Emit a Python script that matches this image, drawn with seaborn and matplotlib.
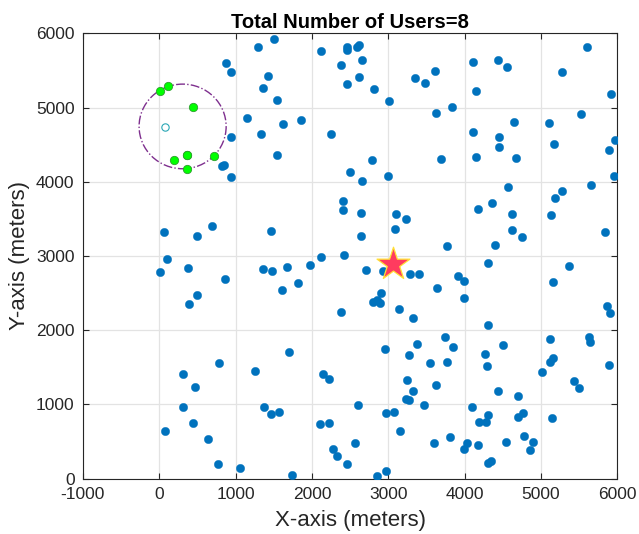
import matplotlib
matplotlib.use("Agg")
import matplotlib.pyplot as plt
import seaborn as sns
import pandas as pd
from matplotlib.patches import Circle

# ---------------- data ----------------
blue_x = [1296, 873, 939, 1148, 939, 817, 851, 939, 1502, 2121, 2454, 2454, 2593, 2611,
          2654, 2375, 1423, 1354, 1537, 2611, 2454, 2811, 3012, 3344, 3483, 3614, 1851,
          1624, 1336, 1541, 2252, 2781, 2493, 2654, 2995, 3627, 4108, 4435, 4553, 4147,
          5600, 5277, 5915, 3829, 4112, 4444, 4452, 4641, 4147, 4667, 3693, 5103, 5522,
          5168, 5967, 5888, 5958, 5649, 58, 498, 694, 97, 9, 372, 860, 498, 393, 1354,
          2409, 2405, 2641, 1459, 2641, 3099, 3230, 3090, 2117, 2415, 1969, 1676, 1480,
          1820, 1607, 2703, 2929, 3287, 3404, 3636, 2903, 2802, 2851, 2894, 3135, 3326,
          2375, 4570, 4352, 4177, 4614, 4614, 4745, 4400, 3771, 5269, 5177, 5125, 5840,
          4304, 5365, 3915, 3994, 3994, 5151, 5862, 5905, 4304, 782, 310, 467, 1253, 310,
          437, 75, 638, 773, 1057, 1367, 1694, 1467, 1563, 1742, 2143, 2222, 2602, 2108,
          2222, 2274, 2327, 2559, 2462, 2855, 2968, 2951, 3370, 3274, 3545, 3239, 3318,
          3619, 3230, 3266, 3462, 2965, 3073, 3156, 3597, 3737, 3842, 3763, 4265, 4496,
          4291, 4431, 4693, 4091, 4308, 4190, 4278, 4697, 4758, 3803, 4025, 3986, 4173,
          4544, 4775, 4897, 4854, 4300, 4343, 5112, 5630, 5640, 5151, 5116, 5015, 5892,
          5434, 5499, 5146]
blue_y = [5811, 5604, 5479, 4855, 4607, 4212, 4230, 4068, 5927, 5757, 5819, 5775, 5811, 5838,
          5640, 5569, 5429, 5267, 5106, 5415, 5317, 5254, 5088, 5402, 5327, 5496, 4828,
          4778, 4643, 4365, 4643, 4297, 4128, 4006, 4078, 4926, 5609, 5644, 5550, 5219,
          5811, 5475, 5186, 5007, 4666, 4607, 4468, 4805, 4338, 4324, 4303, 4788, 4909,
          4509, 4567, 4424, 4082, 3961, 3327, 3273, 3400, 2956, 2780, 2842, 2686, 2471,
          2349, 2829, 3737, 3620, 3575, 3333, 3273, 3562, 3502, 3368, 2982, 3013, 2879,
          2848, 2798, 2640, 2542, 2815, 2798, 2762, 2753, 2569, 2502, 2376, 2407, 2363,
          2290, 2169, 2242, 3934, 3718, 3633, 3562, 3354, 3260, 3144, 3131, 3880, 3781,
          3556, 3323, 2910, 2869, 2727, 2667, 2434, 2654, 2322, 2228, 2075, 1559, 1406,
          1239, 1447, 966, 750, 643, 539, 198, 148, 962, 1703, 868, 894, 54, 1406, 1339,
          989, 733, 754, 404, 310, 477, 194, 32, 100, 1751, 1811, 1662, 1563, 1326, 1181,
          1262, 1074, 1056, 993, 881, 899, 647, 481, 1909, 1770, 1576, 1684, 1805, 1518,
          1177, 1118, 970, 858, 764, 760, 835, 881, 562, 485, 400, 454, 490, 579, 498,
          383, 216, 242, 1882, 1909, 1842, 1630, 1576, 1441, 1536, 1312, 1218, 814]

user_x = [118, 9, 441, 192, 359, 359, 716, 362]
user_y = [5290, 5223, 5011, 4293, 4361, 4176, 4347, 4355]

uav_x = [71]
uav_y = [4734]

circle_center = (306, 4745)
circle_radius = 570

star_x = [3064]
star_y = [2892]

x_ticks = [-1000, 0, 1000, 2000, 3000, 4000, 5000, 6000]
y_ticks = [0, 1000, 2000, 3000, 4000, 5000, 6000]

title = "Total Number of Users=8"
xlabel = "X-axis (meters)"
ylabel = "Y-axis (meters)"

# ---------------- plot ----------------
sns.set_theme(style="white")
plt.rcParams["font.family"] = ["Liberation Sans", "DejaVu Sans"]

fig = plt.figure(figsize=(6.39, 5.34), dpi=100)
ax = fig.add_axes([0.1297, 0.1036, 0.8366, 0.8341])

bs = pd.DataFrame({"x": blue_x, "y": blue_y})
us = pd.DataFrame({"x": user_x, "y": user_y})

sns.scatterplot(data=bs, x="x", y="y", ax=ax, s=36, color="#0072BD",
                edgecolor="#0072BD", linewidth=0.3, zorder=3)
sns.scatterplot(data=us, x="x", y="y", ax=ax, s=36, color="#00FF00",
                edgecolor="#2E9E2E", linewidth=0.6, zorder=4)
ax.scatter(uav_x, uav_y, s=28, facecolor="white", edgecolor="#2AA6B5",
           linewidth=0.8, zorder=4)
ax.add_patch(Circle(circle_center, circle_radius, fill=False, edgecolor="#7E2F8E",
                    linestyle="-.", linewidth=1.0, zorder=2))
ax.scatter(star_x, star_y, marker="*", s=620, color="#FF3B5F",
           edgecolor="#FFE135", linewidth=0.9, zorder=5)

ax.set_xlim(-1000, 6000)
ax.set_ylim(0, 6000)
ax.set_xticks(x_ticks)
ax.set_yticks(y_ticks)
ax.set_xticklabels([str(t) for t in x_ticks])
ax.set_yticklabels([str(t) for t in y_ticks])
ax.grid(True, color="#E3E3E3", linewidth=0.9)
ax.set_axisbelow(True)
ax.tick_params(direction="in", length=4, width=0.8, colors="#262626",
               labelsize=12.5, top=True, right=True, bottom=True, left=True,
               labelcolor="#262626", pad=6)
for sp in ax.spines.values():
    sp.set_color("#262626")
    sp.set_linewidth(0.8)

ax.set_title(title, fontsize=14.5, fontweight="bold", color="black", pad=4)
ax.set_xlabel(xlabel, fontsize=16, color="#262626", labelpad=6)
ax.set_ylabel(ylabel, fontsize=16, color="#262626", labelpad=4)

fig.savefig("out.png", dpi=100)
